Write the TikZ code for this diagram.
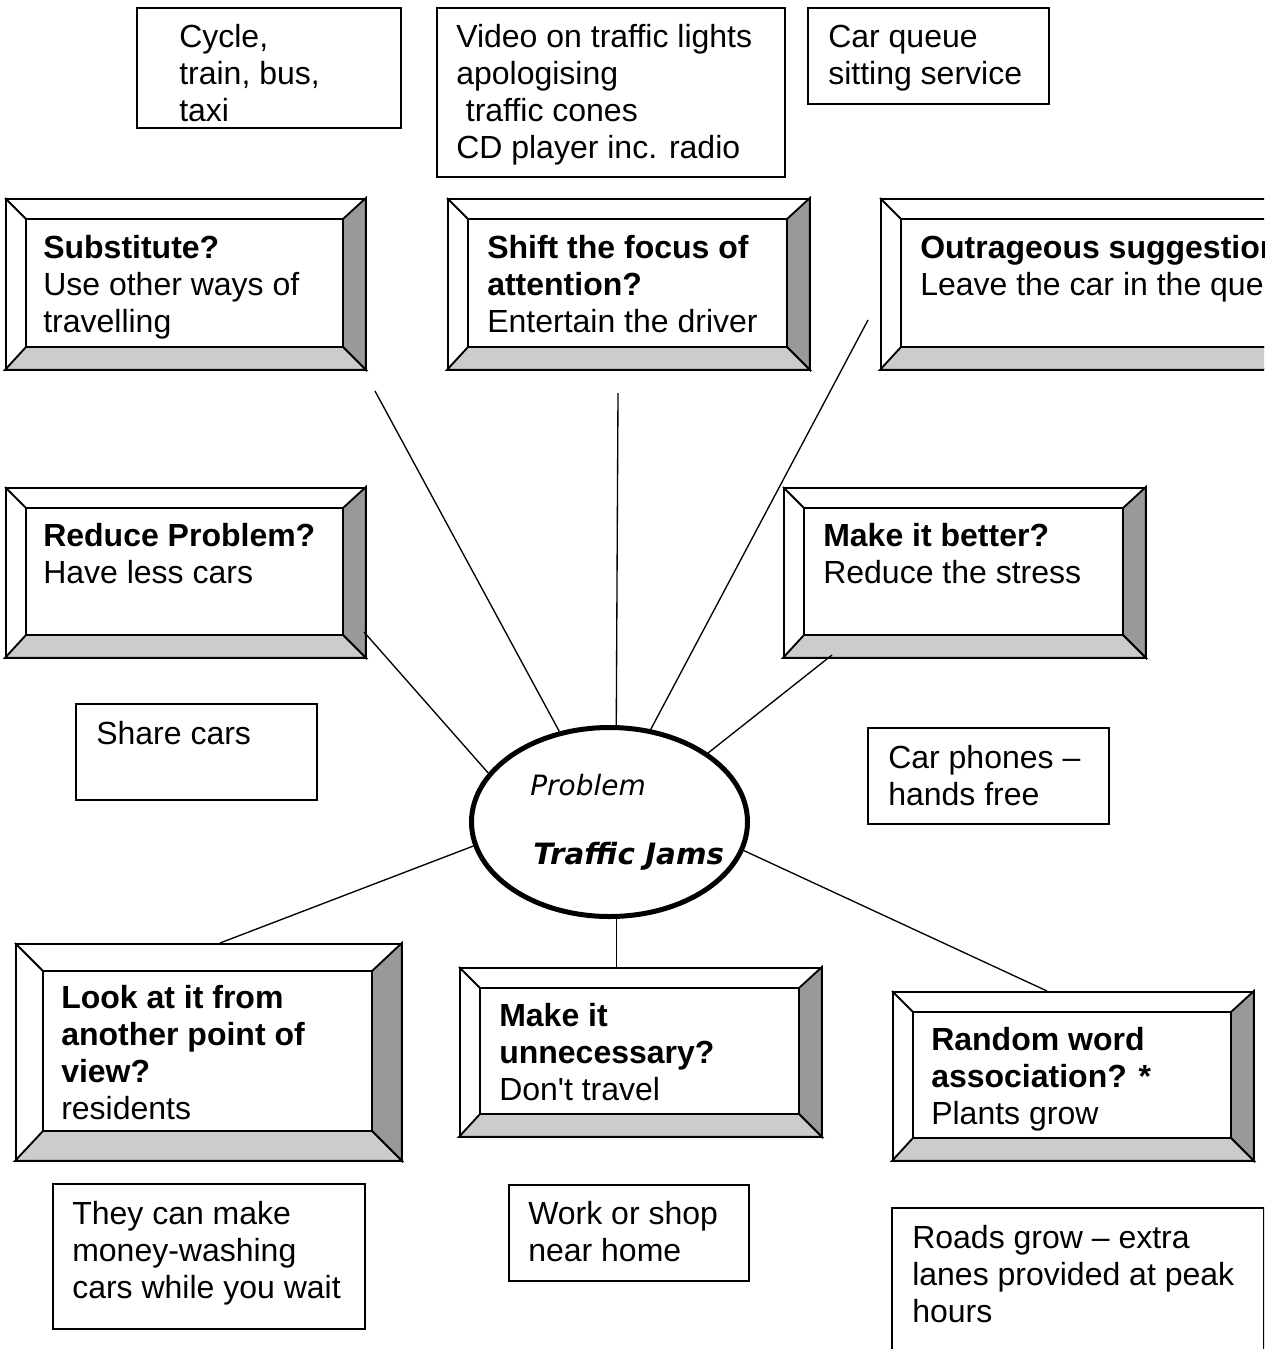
\documentclass[tikz,border=0pt]{standalone}
\usepackage{fontspec}
\setmainfont{Liberation Sans}
\newfontfamily\ellfont{DejaVu Sans}
\usetikzlibrary{shapes.geometric,calc}
\definecolor{bevdark}{HTML}{999999}
\definecolor{bevlight}{HTML}{CCCCCC}

% left-aligned lines whose baseline is the first line's baseline
\newcommand\stacklines[1]{\begin{tabular}[t]{@{}l@{}}#1\end{tabular}}

\tikzset{
  card/.style={draw, line width=1.4pt, fill=white, inner sep=0pt},
  boxtext/.style={anchor=base west, inner sep=0pt, font=\fontsize{24}{27.75}\selectfont},
  elltext/.style={anchor=base west, inner sep=0pt, font=\ellfont\fontsize{21}{25}\selectfont},
  spoke/.style={line width=1pt},
  hub/.style={draw, ellipse, line width=3.75pt, inner sep=0pt, fill=white},
}

% plain framed box: name, left, top, right, bottom
\newcommand\plainbox[5]{%
  \node[card, anchor=north west, minimum width={(#4-#2)*0.75pt},
        minimum height={(#5-#3)*0.75pt}] (#1) at (#2,#3) {};
}

% bevelled button box: name, left, top, right, bottom, bevel
\newcommand\bevelbox[6]{%
  \node[card, anchor=north west, minimum width={(#4-#2)*0.75pt},
        minimum height={(#5-#3)*0.75pt}] (#1) at (#2,#3) {};
  \coordinate (#1-a) at ({#2+#6},{#3+#6});
  \coordinate (#1-b) at ({#4-#6},{#3+#6});
  \coordinate (#1-c) at ({#4-#6},{#5-#6});
  \coordinate (#1-d) at ({#2+#6},{#5-#6});
  \filldraw[fill=bevdark, line width=1.4pt] (#1.north east) -- (#1.south east) -- (#1-c) -- (#1-b) -- cycle;
  \filldraw[fill=bevlight, line width=1.4pt] (#1.south west) -- (#1.south east) -- (#1-c) -- (#1-d) -- cycle;
  \draw[line width=1.4pt] (#1-a) rectangle (#1-c);
  \draw[line width=1.4pt] (#1.north west) -- (#1-a);
}

\begin{document}
\begin{tikzpicture}[x=0.75pt, y=-0.75pt]
\useasboundingbox (0,0) rectangle (1264,1349);
\clip (0,0) rectangle (1264,1349);
\fill[white] (0,0) rectangle (1264,1349);

% ---- idea boxes along the top
\plainbox{travel}{136}{7}{400}{127}
\node[boxtext] (travelT) at (179,47) {\stacklines{Cycle,\\train, bus,\\taxi}};
\plainbox{entertain}{436}{7}{784}{176}
\node[boxtext] (entertainT) at (456,47) {\stacklines{Video on traffic lights\\apologising\\\hspace{0.3em}traffic cones\\CD player inc. radio}};
\plainbox{queue}{807}{7}{1048}{103}
\node[boxtext] (queueT) at (828,47) {\stacklines{Car queue\\sitting service}};

% ---- question buttons
\bevelbox{sub}{5}{198}{364}{368}{21}
\node[boxtext] (subT) at (43,258) {\stacklines{\textbf{Substitute?}\\Use other ways of\\travelling}};
\bevelbox{shift}{447}{198}{808}{368}{21}
\node[boxtext] (shiftT) at (487,258) {\stacklines{\textbf{Shift the focus of}\\\textbf{attention?}\\Entertain the driver}};
\bevelbox{outr}{880}{198}{1300}{368}{21}
\node[boxtext] (outrT) at (920,258) {\stacklines{\textbf{Outrageous suggestion?}\\Leave the car in the queue}};

\bevelbox{reduce}{5}{487}{364}{656}{21}
\node[boxtext] (reduceT) at (43,546) {\stacklines{\textbf{Reduce Problem?}\\Have less cars}};
\bevelbox{better}{783}{487}{1144}{656}{21}
\node[boxtext] (betterT) at (823,546) {\stacklines{\textbf{Make it better?}\\Reduce the stress}};

\plainbox{share}{75}{703}{316}{799}
\node[boxtext] (shareT) at (96,744) {Share cars};
\plainbox{phones}{867}{727}{1108}{823}
\node[boxtext] (phonesT) at (888,768) {\stacklines{Car phones --\\hands free}};

\bevelbox{look}{15}{943}{400}{1159}{28}
\node[boxtext] (lookT) at (61,1008) {\stacklines{\textbf{Look at it from}\\\textbf{another point of}\\\textbf{view?}\\residents}};
\bevelbox{unn}{459}{967}{820}{1135}{21}
\node[boxtext] (unnT) at (499,1026) {\stacklines{\textbf{Make it}\\\textbf{unnecessary?}\\Don\textquotesingle t travel}};
\bevelbox{rand}{892}{991}{1252}{1159}{21}
\node[boxtext] (randT) at (931,1050) {\stacklines{\textbf{Random word}\\\textbf{association? *}\\Plants grow}};

\plainbox{wash}{52}{1183}{364}{1328}
\node[boxtext] (washT) at (72,1224) {\stacklines{They can make\\money-washing\\cars while you wait}};
\plainbox{home}{508}{1184}{748}{1280}
\node[boxtext] (homeT) at (528,1224) {\stacklines{Work or shop\\near home}};
\plainbox{roads}{891}{1207}{1263}{1380}
\node[boxtext] (roadsT) at (912,1248) {\stacklines{Roads grow -- extra\\lanes provided at peak\\hours}};

% ---- central problem
\node[hub, minimum width=207pt, minimum height=141.75pt] (prob) at (609.5,822) {};
\node[elltext] (probA) at (530,795) {\itshape Problem};
\node[elltext, font=\ellfont\fontsize{22}{25}\selectfont] (probB) at (533,864) {\bfseries\itshape Traffic Jams};

% ---- spokes
\coordinate (subEnd) at (375,391);
\coordinate (shiftEnd) at (618,393);
\coordinate (outrEnd) at (868,320);
\coordinate (reduceEnd) at (364,632);
\coordinate (betterEnd) at (832,655);
\coordinate (lookEnd) at (220,943);
\coordinate (randEnd) at (1047,991);
\draw[spoke] (subEnd) -- (prob.119);
\draw[spoke] (shiftEnd) -- (prob.86);
\draw[spoke] (outrEnd) -- (prob.66);
\draw[spoke] (reduceEnd) -- (prob.158);
\draw[spoke] (betterEnd) -- (prob.35);
\draw[spoke] (prob.190) -- (lookEnd);
\draw[spoke] (prob.274) -- (prob.274 |- unn.north);
\draw[spoke] (prob.348) -- (randEnd);
\end{tikzpicture}
\end{document}
